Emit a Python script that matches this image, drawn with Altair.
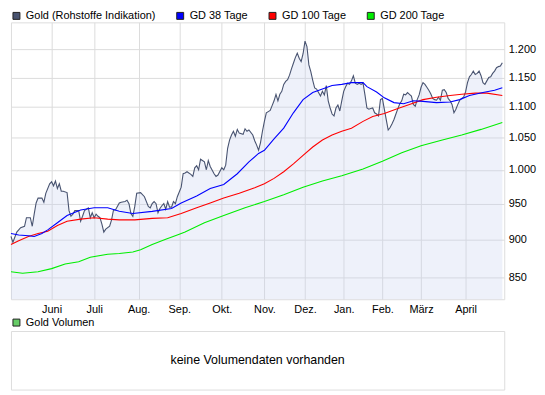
import altair as alt
import pandas as pd

# ---------------- data ----------------
series_names = ["Gold (Rohstoffe Indikation)", "GD 38 Tage", "GD 100 Tage", "GD 200 Tage"]
series_colors = ["#485370", "#0000ff", "#ff0000", "#00ee00"]

months = ["Juni", "Juli", "Aug.", "Sep.", "Okt.", "Nov.", "Dez.", "Jan.", "Feb.", "März", "April"]
month_start_idx = [21, 43, 66, 87, 109, 131, 152, 172, 192, 212, 235]

y_ticks = [850, 900, 950, 1000, 1050, 1100, 1150, 1200]

gold_idx = [0, 1, 3, 5, 7, 8, 10, 11, 12, 13, 14, 16, 17, 18, 20, 21, 22, 23, 24, 25,
            26, 27, 29, 30, 31, 32, 33, 35, 36, 37, 38, 40, 41, 42, 43, 44, 45, 46, 47, 48,
            49, 51, 52, 53, 54, 56, 57, 59, 60, 61, 62, 63, 64, 65, 67, 69, 71, 72, 73, 74,
            75, 76, 77, 78, 79, 80, 81, 82, 83, 84, 85, 86, 88, 89, 90, 91, 93, 94, 95, 96,
            97, 98, 100, 101, 102, 103, 105, 106, 107, 109, 110, 111, 112, 113, 114, 115, 116, 117, 118, 120,
            121, 122, 123, 125, 126, 127, 128, 129, 130, 131, 132, 133, 134, 135, 136, 137, 138, 139, 140, 141,
            142, 143, 144, 145, 146, 147, 148, 149, 150, 151, 152, 153, 154, 155, 156, 157, 158, 159, 160, 161,
            162, 163, 164, 165, 166, 167, 168, 169, 170, 171, 172, 173, 174, 175, 176, 177, 178, 179, 180, 181,
            182, 183, 184, 185, 186, 187, 188, 189, 190, 191, 192, 193, 194, 195, 196, 197, 198, 199, 200, 201,
            202, 203, 204, 205, 206, 207, 208, 209, 210, 211, 212, 213, 214, 215, 216, 217, 218, 219, 220, 221,
            222, 223, 224, 225, 226, 227, 228, 229, 230, 231, 232, 233, 234, 235, 236, 237, 238, 239, 240, 241,
            242, 243, 244, 245, 246, 247, 248, 249, 250, 251, 252, 253, 254]
gold_val = [904, 896, 910, 916, 918, 930, 930, 918, 935, 951, 958, 958, 952, 965, 979, 982, 976, 983, 972, 979,
            968, 968, 966, 940, 932, 935, 940, 940, 925, 932, 940, 944, 930, 937, 930, 935, 932, 930, 921, 910,
            914, 918, 927, 941, 941, 951, 952, 953, 955, 950, 936, 932, 946, 965, 966, 960, 946, 944, 950, 953,
            950, 937, 943, 947, 950, 942, 953, 945, 945, 953, 950, 960, 974, 994, 995, 997, 993, 990, 1003, 1006,
            1000, 1016, 1012, 1000, 1014, 1005, 994, 990, 992, 1003, 1000, 1007, 1033, 1046, 1054, 1060, 1052, 1063, 1057, 1055,
            1064, 1060, 1062, 1054, 1045, 1038, 1030, 1042, 1060, 1076, 1090, 1092, 1094, 1102, 1110, 1121, 1110, 1121, 1126, 1138,
            1143, 1146, 1154, 1165, 1175, 1185, 1193, 1184, 1178, 1192, 1215, 1205, 1172, 1160, 1145, 1132, 1130, 1124, 1118, 1126,
            1120, 1136, 1110, 1098, 1088, 1085, 1098, 1103, 1093, 1110, 1126, 1134, 1140, 1138, 1144, 1153, 1140, 1138, 1140, 1138,
            1140, 1120, 1098, 1096, 1097, 1098, 1090, 1088, 1085, 1112, 1114, 1096, 1079, 1062, 1066, 1072, 1079, 1088, 1097, 1105,
            1110, 1121, 1120, 1124, 1121, 1118, 1104, 1101, 1112, 1120, 1133, 1141, 1138, 1133, 1128, 1122, 1114, 1112, 1111, 1116,
            1111, 1128, 1129, 1124, 1114, 1110, 1104, 1090, 1096, 1104, 1111, 1114, 1116, 1125, 1141, 1151, 1155, 1161, 1155, 1157,
            1161, 1153, 1141, 1138, 1144, 1150, 1151, 1157, 1161, 1167, 1169, 1170, 1176]

gd38_idx = [0, 4, 9, 12, 16, 19, 24, 29, 36, 43, 50, 56, 63, 73, 83, 88, 96, 103, 110, 117,
            123, 128, 131, 136, 141, 146, 151, 156, 161, 166, 171, 176, 182, 184, 189, 193, 198, 203, 208, 213,
            220, 227, 232, 237, 244, 250, 254]
gd38_val = [908, 906, 905, 904, 908, 913, 923, 933, 941, 944, 944, 939, 936, 939, 943, 951, 961, 972, 978, 994,
            1012, 1025, 1030, 1048, 1065, 1090, 1112, 1124, 1130, 1136, 1138, 1141, 1141, 1134, 1125, 1115, 1107, 1105, 1110, 1109,
            1107, 1108, 1112, 1119, 1124, 1128, 1132]

gd100_idx = [0, 4, 9, 14, 19, 24, 29, 36, 43, 50, 56, 64, 73, 81, 88, 96, 103, 110, 118, 126,
             131, 136, 141, 146, 151, 156, 161, 166, 171, 176, 182, 187, 193, 200, 206, 213, 220, 227, 233, 240,
             246, 254]
gd100_val = [893, 898, 904, 908, 911, 919, 925, 928, 930, 928, 927, 927, 929, 930, 936, 944, 951, 958, 965, 973,
             979, 987, 997, 1009, 1022, 1035, 1046, 1054, 1060, 1065, 1076, 1084, 1089, 1097, 1104, 1112, 1116, 1119, 1121, 1123,
             1123, 1119]

gd200_idx = [0, 6, 14, 21, 28, 35, 41, 50, 56, 63, 67, 73, 80, 87, 90, 100, 110, 121, 131, 141,
             151, 161, 171, 182, 192, 202, 212, 223, 233, 243, 254]
gd200_val = [857, 855, 857, 861, 867, 870, 876, 880, 881, 883, 886, 893, 900, 907, 910, 923, 933, 944, 953, 963,
             974, 983, 991, 1001, 1013, 1026, 1037, 1046, 1054, 1063, 1074]

volume_name = ["Gold Volumen"]
volume_color = ["#66cc66"]
no_volume_msg = ["keine Volumendaten vorhanden"]

# ---------------- tables ----------------
df_gold = pd.DataFrame({"idx": gold_idx, "value": gold_val})
frames = [
    pd.DataFrame({"idx": gold_idx, "value": gold_val, "series": series_names[0]}),
    pd.DataFrame({"idx": gd200_idx, "value": gd200_val, "series": series_names[3]}),
    pd.DataFrame({"idx": gd100_idx, "value": gd100_val, "series": series_names[2]}),
    pd.DataFrame({"idx": gd38_idx, "value": gd38_val, "series": series_names[1]}),
]
df_lines = pd.concat(frames, ignore_index=True)
df_legend = pd.DataFrame({"series": series_names})
df_vol = pd.DataFrame({"vol": volume_name})
df_msg = pd.DataFrame({"msg": no_volume_msg})

FONT = "Liberation Sans"
W = 497
H = 279
BH = 59
Y_MIN = 822

month_arr = "[" + ",".join("'" + m + "'" for m in months) + "]"
idx_arr = "[" + ",".join(str(i) for i in month_start_idx) + "]"

xscale = alt.Scale(domain=[0, 255], nice=False, zero=False)
yscale = alt.Scale(type="log", domain=[Y_MIN, 1250], nice=False)

xaxis = alt.Axis(values=month_start_idx, labelExpr=f"{month_arr}[indexof({idx_arr}, datum.value)]",
                 grid=True, gridColor="#dcdcdc", ticks=False, domain=False, labelPadding=4,
                 labelFont=FONT, labelFontSize=11, labelColor="#000000", title=None, labelFlush=False)
yaxis = alt.Axis(orient="right", values=y_ticks, labelExpr="replace(format(datum.value, ','), ',', '.')",
                 grid=True, gridColor="#dcdcdc", ticks=False, domain=False, labelPadding=4,
                 labelFont=FONT, labelFontSize=11, labelColor="#000000", title=None)

area = alt.Chart(df_gold).mark_area(color="#c6d2ee", opacity=0.3).encode(
    x=alt.X("idx:Q", scale=xscale, axis=xaxis),
    y=alt.Y("value:Q", scale=yscale, axis=yaxis),
    y2=alt.Y2(datum=Y_MIN),
)

lines = alt.Chart(df_lines).mark_line(strokeWidth=1.1).encode(
    x=alt.X("idx:Q", scale=xscale),
    y=alt.Y("value:Q", scale=yscale),
    stroke=alt.Stroke("series:N", scale=alt.Scale(domain=series_names, range=series_colors), legend=None),
    order="idx:Q",
)

legend_layer = alt.Chart(df_legend).mark_square(filled=True).encode(
    fill=alt.Fill("series:N", scale=alt.Scale(domain=series_names, range=series_colors),
                  legend=alt.Legend(title=None, orient="none", legendX=0, legendY=-12,
                                    direction="horizontal", symbolType="square", symbolSize=49,
                                    symbolStrokeColor="#222222", symbolStrokeWidth=1, symbolOpacity=1,
                                    labelFont=FONT, labelFontSize=11, labelColor="#000000",
                                    labelOffset=4, columnPadding=19, padding=0, labelLimit=0)),
).transform_filter("false")

top = alt.layer(area, lines, legend_layer).properties(width=W, height=H)

msg = alt.Chart(df_msg).mark_text(font=FONT, fontSize=12.5, color="#000000").encode(
    text="msg:N", x=alt.value(W / 2), y=alt.value(BH / 2)
)
vol_legend = alt.Chart(df_vol).mark_square(filled=True).encode(
    fill=alt.Fill("vol:N", scale=alt.Scale(domain=volume_name, range=volume_color),
                  legend=alt.Legend(title=None, orient="none", legendX=0, legendY=-14,
                                    direction="horizontal", symbolType="square", symbolSize=49,
                                    symbolStrokeColor="#222222", symbolStrokeWidth=1, symbolOpacity=1,
                                    labelFont=FONT, labelFontSize=11, labelColor="#000000",
                                    labelOffset=4, padding=0, labelLimit=0)),
).transform_filter("false")
bottom = alt.layer(msg, vol_legend).properties(width=W, height=BH)

chart = (
    alt.vconcat(top, bottom, spacing=32, bounds="flush")
    .resolve_scale(fill="independent")
    .resolve_legend(fill="independent")
    .properties(padding={"left": 0, "top": 0, "right": 0, "bottom": 0})
    .configure_view(stroke="#cccccc", strokeWidth=1)
    .configure(font=FONT, background="white")
)

chart.save("out.html", embed_options={"renderer": "svg", "actions": False})
